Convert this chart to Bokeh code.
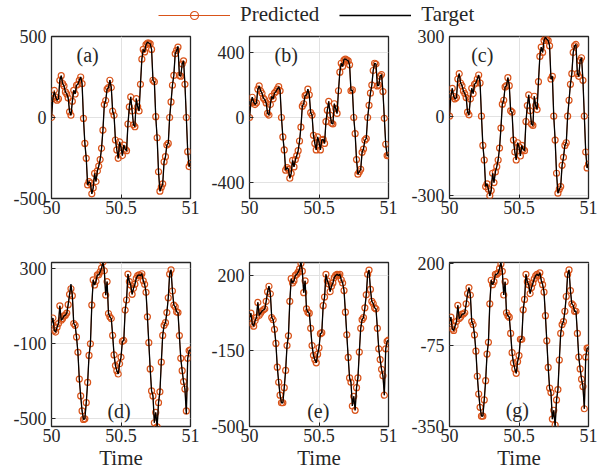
from bokeh.plotting import figure
from bokeh.layouts import column, row
from bokeh.models import Range1d, FixedTicker, Label, Legend, LegendItem
from bokeh.embed import file_html
from bokeh.resources import INLINE

# ---------------- data ----------------
time = [50 + i / 100 for i in range(101)]

pred_a = [0, 117, 168, 127, 107, 115, 230, 258, 209, 195,
          158, 145, 120, 35, 14, 100, 168, 145, 199, 205,
          230, 250, 209, -6, -160, -252, -416, -396, -406, -471,
          -435, -345, -395, -330, -300, -260, -190, -78, 80, 105,
          175, 185, 230, 185, 39, 14, -139, -200, -252, -150,
          -185, -235, -170, -195, -205, -40, 65, 127, 40, -45,
          -57, 117, 66, 40, 205, 360, 420, 405, 450, 460,
          460, 455, 420, 230, 220, 5, -125, -335, -455, -430,
          -410, -273, -242, -170, -160, 0, 96, 199, 260, 394,
          414, 435, 260, 255, 330, 350, 205, 0, -211, -303,
          -283]

pred_b = [0, 90, 125, 95, 80, 90, 175, 195, 165, 150,
          120, 110, 90, 25, 15, 80, 130, 115, 150, 160,
          175, 190, 165, 0, -120, -200, -325, -310, -320, -375,
          -345, -265, -305, -260, -235, -205, -145, -60, 70, 85,
          135, 140, 175, 140, 30, 15, -110, -160, -200, -120,
          -150, -200, -140, -135, -160, -25, 45, 100, 15, -35,
          -40, 85, 55, 25, 165, 280, 335, 315, 355, 360,
          355, 350, 325, 165, 170, 0, -100, -260, -350, -335,
          -320, -215, -195, -140, -130, 0, 75, 150, 200, 290,
          335, 330, 195, 200, 255, 265, 160, -5, -165, -235,
          -233]

pred_c = [0, 75, 105, 75, 65, 70, 140, 160, 125, 115,
          95, 85, 70, 15, 5, 65, 105, 85, 120, 125,
          140, 155, 125, 0, -110, -165, -265, -255, -275, -300,
          -280, -215, -250, -210, -190, -165, -120, -45, 45, 60,
          110, 115, 145, 115, 20, 15, -90, -135, -165, -100,
          -115, -150, -110, -125, -130, -20, 40, 80, 20, -30,
          -35, 75, 40, 25, 130, 225, 260, 240, 285, 295,
          290, 285, 265, 140, 150, 0, -90, -215, -290, -275,
          -265, -185, -155, -110, -100, 0, 60, 120, 160, 240,
          265, 270, 160, 150, 210, 220, 135, 0, -135, -195,
          -180]

pred_d = [5, 34, -32, -41, -15, 4, 99, 22, 31, 45,
          49, 60, 105, 160, 190, 153, 4, -5, -68, -149,
          -292, -382, -462, -507, -504, -418, -310, -166, -104, 103,
          237, 210, 230, 264, 264, 280, 300, 332, 286, 156,
          228, 58, 40, 31, -59, -163, -220, -247, -265, -210,
          -175, -91, -86, 76, 130, 268, 228, 210, 160, 192,
          214, 246, 260, 264, 260, 270, 232, 214, 171, 40,
          -98, -238, -355, -382, -525, -470, -547, -418, -360, -202,
          -59, -5, 9, 63, 142, 268, 291, 178, 103, 94,
          67, 63, -60, -181, -247, -306, -345, -462, -181, -140,
          -136]

pred_e = [5, 25, -25, -35, -10, 5, 75, 15, 25, 35,
          40, 45, 80, 125, 150, 115, 5, -5, -50, -115,
          -225, -295, -355, -390, -390, -320, -240, -125, -80, 80,
          185, 165, 175, 200, 205, 215, 230, 255, 220, 120,
          175, 45, 30, 25, -45, -125, -170, -190, -205, -165,
          -135, -70, -65, 60, 100, 205, 175, 160, 125, 150,
          165, 190, 200, 205, 200, 205, 180, 165, 130, 30,
          -75, -180, -275, -295, -405, -360, -425, -320, -275, -155,
          -45, -5, 5, 50, 110, 205, 225, 135, 80, 70,
          50, 45, -45, -140, -190, -235, -265, -355, -140, -105,
          -100]

pred_g = [5, 20, -20, -25, -10, 5, 60, 15, 20, 30,
          30, 35, 65, 100, 120, 95, 5, -5, -40, -95,
          -180, -240, -285, -315, -315, -260, -195, -105, -65, 65,
          145, 130, 140, 165, 165, 170, 185, 200, 175, 95,
          140, 35, 25, 20, -35, -100, -135, -155, -170, -130,
          -110, -55, -55, 45, 80, 165, 140, 130, 100, 120,
          135, 150, 160, 165, 160, 170, 145, 130, 105, 25,
          -60, -150, -220, -235, -325, -295, -345, -260, -225, -125,
          -35, -5, 5, 40, 90, 165, 180, 110, 65, 60,
          40, 40, -35, -115, -155, -190, -215, -290, -115, -85,
          -85]

# target differs from prediction only at a few samples (index: value)
target_fix_a = {2: 160, 69: 465, 91: 440}
target_fix_b = {68: 360}
target_fix_c = {69: 298}
target_fix_d = {14: 215, 97: -480}
target_fix_e = {37: 262}
target_fix_g = {76: -350, 37: 205}

panel_tags = ["(a)", "(b)", "(c)", "(d)", "(e)", "(g)"]
y_limits = [(-500, 500), (-500, 500), (-310, 300), (-545, 330), (-500, 260), (-350, 205)]
y_ticks = [[-500, 0, 500], [-400, 0, 400], [-300, 0, 300],
           [-500, -100, 300], [-500, -150, 200], [-350, -75, 200]]
x_ticks = [50, 50.5, 51]
x_tick_labels = ["50", "50.5", "51"]
tag_pos = [(50.26, 383), (50.264, 383), (50.236, 229),
           (50.486, -464), (50.495, -426), (50.488, -293)]

preds = [pred_a, pred_b, pred_c, pred_d, pred_e, pred_g]
fixes = [target_fix_a, target_fix_b, target_fix_c, target_fix_d, target_fix_e, target_fix_g]

# ---------------- style ----------------
ORANGE = "#D95319"
DARK = "#262626"
FONT = "Liberation Serif"

col_borders = [(51, 16), (43, 18), (43, 9)]
row_borders = [(9, 34), (30, 48)]
row_heights = [162, 164]
FW = 139
LEGEND_H = 27


def make_panel(k):
    r, c = divmod(k, 3)
    top, bottom = row_borders[r]
    left, right = col_borders[c]
    p = figure(frame_width=FW, frame_height=row_heights[r],
               min_border_left=left, min_border_right=right,
               min_border_top=top, min_border_bottom=bottom,
               x_range=Range1d(50, 51), y_range=Range1d(*y_limits[k]),
               toolbar_location=None, output_backend="svg")
    p.background_fill_color = "white"
    p.border_fill_color = "white"
    p.outline_line_color = DARK
    p.outline_line_width = 1.3

    p.xaxis.ticker = FixedTicker(ticks=x_ticks)
    p.xaxis.major_label_overrides = {t: s for t, s in zip(x_ticks, x_tick_labels)}
    p.yaxis.ticker = FixedTicker(ticks=y_ticks[k])
    p.yaxis.major_label_overrides = {t: str(t) for t in y_ticks[k]}
    for ax in (p.xaxis, p.yaxis):
        ax.axis_line_color = None
        ax.major_tick_in = 4
        ax.major_tick_out = 0
        ax.major_tick_line_color = DARK
        ax.minor_tick_line_color = None
        ax.major_label_text_font = FONT
        ax.major_label_text_font_size = "18px"
        ax.major_label_text_color = DARK
    p.xaxis.major_label_standoff = 2
    p.yaxis.major_label_standoff = 5
    if r == 1:
        p.xaxis.axis_label = "Time"
        p.xaxis.axis_label_text_font = FONT
        p.xaxis.axis_label_text_font_size = "21px"
        p.xaxis.axis_label_text_font_style = "normal"
        p.xaxis.axis_label_text_color = DARK
        p.xaxis.axis_label_standoff = 1
    p.grid.grid_line_color = "#e2e2e2"
    p.grid.grid_line_width = 1

    pred = preds[k]
    target = list(pred)
    for i, v in fixes[k].items():
        target[i] = v

    p.line(time, pred, line_color=ORANGE, line_width=1)
    p.scatter(time, pred, marker="circle", size=6, fill_color=None,
              line_color=ORANGE, line_width=1.2)
    p.line(time, target, line_color="black", line_width=1.3)

    tx, ty = tag_pos[k]
    p.add_layout(Label(x=tx, y=ty, text=panel_tags[k], text_font=FONT,
                       text_font_size="20px", text_color=DARK,
                       text_align="center", text_baseline="middle"))
    return p


panels = [make_panel(k) for k in range(6)]

# legend strip on top (its glyphs lie outside the visible range)
lf = figure(width=597, height=LEGEND_H, x_range=Range1d(0, 1), y_range=Range1d(0, 1),
            x_axis_location=None, y_axis_location=None, min_border=0,
            toolbar_location=None, output_backend="svg")
lf.grid.visible = False
lf.outline_line_color = None
r1 = lf.line(x=[-2, -1], y=[-2, -2], line_color=ORANGE, line_width=1)
r2 = lf.scatter(x=[-2], y=[-2], marker="circle", size=6, fill_color=None,
                line_color=ORANGE, line_width=1.2)
r3 = lf.line(x=[-2, -1], y=[-2, -2], line_color="black", line_width=1.3)
legend = Legend(items=[LegendItem(label="Predicted", renderers=[r1, r2]),
                       LegendItem(label="Target", renderers=[r3])],
                orientation="horizontal", location=(158, 0),
                glyph_width=72, glyph_height=20, label_height=20,
                label_standoff=10, spacing=20, padding=0, margin=0,
                border_line_color=None, background_fill_alpha=0,
                label_text_font=FONT, label_text_font_size="21px",
                label_text_color=DARK)
lf.add_layout(legend)

layout = column(lf, row(*panels[:3]), row(*panels[3:]))

open("out.html", "w").write(file_html(layout, INLINE))
